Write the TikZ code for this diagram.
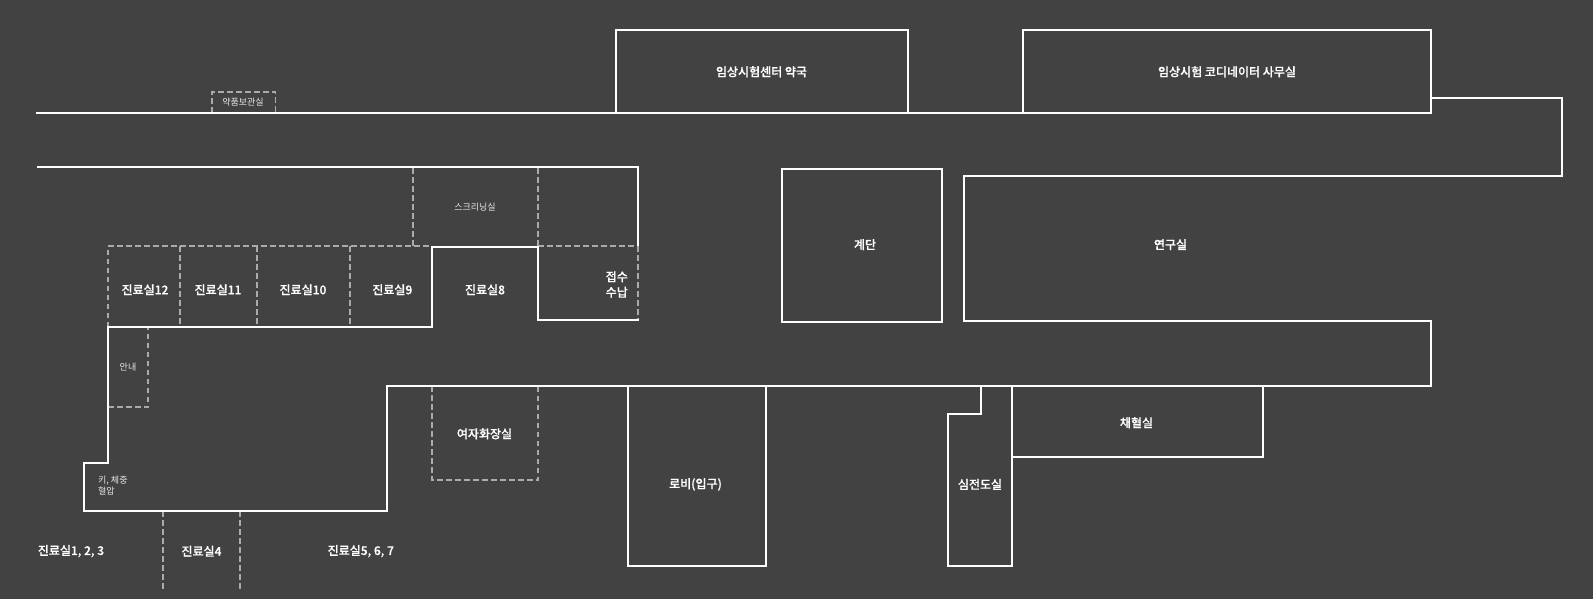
\documentclass[tikz,border=0pt]{standalone}
\usepackage{fontspec}
\newfontfamily\krm[FakeBold=0.6]{Noto Sans CJK KR Medium}
\newfontfamily\krr{Noto Sans CJK KR}
\definecolor{bgc}{HTML}{424242}
\definecolor{dashc}{HTML}{ABABAB}
\definecolor{smallc}{HTML}{E6E6E6}
\tikzset{
  wall/.style={draw=white,line width=2pt,line cap=rect,line join=miter},
  thin wall/.style={draw=dashc,line width=1.7pt,dash pattern=on 5.5pt off 3.5pt},
  main label/.style={text=white,font=\krm\fontsize{12}{15.5}\selectfont,inner sep=0pt,align=center},
  small label/.style={text=smallc,font=\krr\fontsize{9}{11}\selectfont,inner sep=0pt,align=left},
}
\begin{document}
\begin{tikzpicture}[x=1pt,y=-1pt]
\path[fill=bgc] (0,0) rectangle (1593,599);
\useasboundingbox (0,0) rectangle (1593,599);
% dashed partitions
\draw[thin wall] (212,113) -- (212,92) -- (275.5,92) -- (275.5,113);
\draw[thin wall] (413,168) -- (413,246);
\draw[thin wall] (538,168) -- (538,246);
\draw[thin wall] (108,246) -- (432,246);
\draw[thin wall] (538,246) -- (638,246);
\draw[thin wall] (108,327) -- (108,246);
\draw[thin wall] (180,246) -- (180,327);
\draw[thin wall] (257,246) -- (257,327);
\draw[thin wall] (350,246) -- (350,327);
\draw[thin wall] (638,246) -- (638,320);
\draw[thin wall] (108,407) -- (148,407) -- (148,327);
\draw[thin wall] (432,386) -- (432,480) -- (538,480) -- (538,386);
\draw[thin wall] (163,511) -- (163,591);
\draw[thin wall] (240,511) -- (240,592);
% walls
\draw[wall] (36.5,113) -- (1431,113);
\draw[wall] (616,113) -- (616,30) -- (908,30) -- (908,113);
\draw[wall] (1023,113) -- (1023,30) -- (1431,30) -- (1431,113);
\draw[wall] (1431,98) -- (1562,98) -- (1562,176) -- (964,176) -- (964,321) -- (1431,321) -- (1431,386) -- (387,386) -- (387,511) -- (84,511) -- (84,463) -- (108,463) -- (108,327) -- (432,327) -- (432,246.5) -- (538,246.5) -- (538,320) -- (638,320);
\draw[wall] (38,167.3) -- (638,167.3) -- (638,245);
\draw[wall] (782,169) rectangle (942,322);
\draw[wall] (628,386) -- (628,566) -- (766,566) -- (766,386);
\draw[wall] (981,386) -- (981,414) -- (948,414) -- (948,566) -- (1012,566) -- (1012,386);
\draw[wall] (1012,457) -- (1263,457) -- (1263,386);
% labels
\node[small label] (yakpum) at (243,102.5) {약품보관실};
\node[small label] (screen) at (475,207.3) {스크리닝실};
\node[small label] (annae) at (128,367.3) {안내};
\node[small label,anchor=west] (height) at (98,485.3) {키, 체중\\혈압};
\node[main label] (r12) at (145,289.7) {진료실12};
\node[main label] (r11) at (218,289.7) {진료실11};
\node[main label] (r10) at (303,289.7) {진료실10};
\node[main label] (r9) at (392.3,289.7) {진료실9};
\node[main label] (r8) at (485,289.7) {진료실8};
\node[main label,align=right,anchor=east] (jeopsu) at (628,284.5) {접수\\수납};
\node[main label] (pharm) at (761.5,71.7) {임상시험센터 약국};
\node[main label] (coord) at (1227,71.7) {임상시험 코디네이터 사무실};
\node[main label] (stairs) at (865,244.6) {계단};
\node[main label] (lab) at (1170.5,244.6) {연구실};
\node[main label] (ladies) at (484.5,433.8) {여자화장실};
\node[main label] (lobby) at (695.5,484.4) {로비(입구)};
\node[main label] (ecg) at (980,484.4) {심전도실};
\node[main label] (blood) at (1136.5,422.7) {채혈실};
\node[main label] (r123) at (71,551.2) {진료실1, 2, 3};
\node[main label] (r4) at (201.5,551.2) {진료실4};
\node[main label] (r567) at (360.8,551.2) {진료실5, 6, 7};
\end{tikzpicture}
\end{document}
